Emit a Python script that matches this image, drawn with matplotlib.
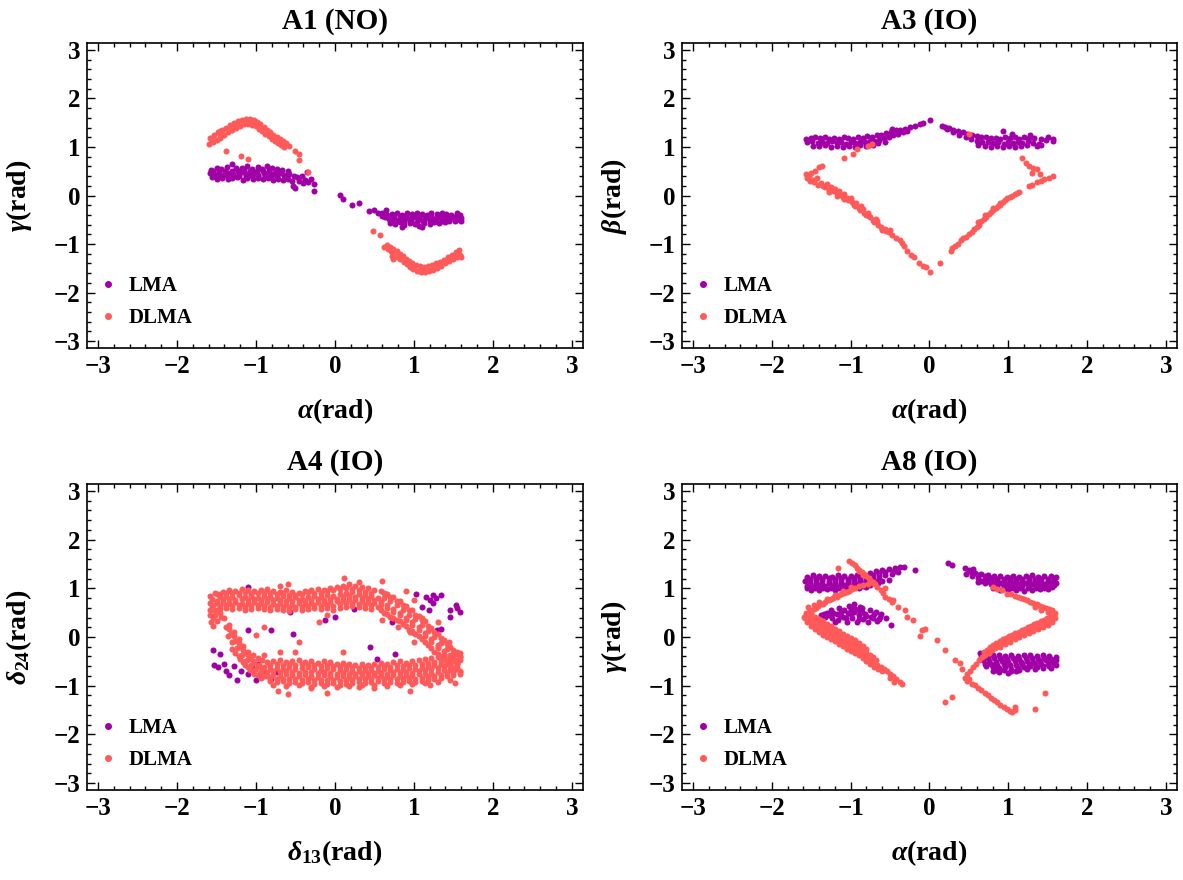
import numpy as np
import matplotlib
matplotlib.use("Agg")
import matplotlib.pyplot as plt
from matplotlib.ticker import MultipleLocator
from matplotlib.lines import Line2D

# Fonts: Times-like bold text, bold italic greek
plt.rcParams['font.family'] = ['Liberation Serif', 'DejaVu Serif']
plt.rcParams['font.weight'] = 'bold'
plt.rcParams['mathtext.fontset'] = 'custom'
plt.rcParams['mathtext.rm'] = 'Liberation Serif:bold'
plt.rcParams['mathtext.it'] = 'Liberation Serif:italic:bold'
plt.rcParams['mathtext.bf'] = 'Liberation Serif:bold'

LMA_COLOR = '#a000a6'
DLMA_COLOR = '#ff5a5a'

# ---------------- A1 (NO) : alpha vs gamma ----------------
a1_lma = [
    (-1.57, 0.53), (-1.5, 0.56), (-1.44, 0.55), (-1.37, 0.58), (-1.31, 0.65), (-1.25, 0.56), (-1.18, 0.57),
    (-1.12, 0.6), (-1.05, 0.55), (-0.98, 0.58), (-0.92, 0.54), (-0.86, 0.6), (-0.8, 0.57), (-0.73, 0.55),
    (-0.67, 0.52), (-0.6, 0.5),
    (-1.55, 0.5), (-1.47, 0.52), (-1.39, 0.5), (-1.31, 0.51), (-1.23, 0.5), (-1.15, 0.52), (-1.07, 0.5),
    (-0.99, 0.51), (-0.91, 0.5), (-0.83, 0.52), (-0.75, 0.49), (-0.68, 0.47),
    (-1.58, 0.47), (-1.53, 0.44), (-1.47, 0.46), (-1.41, 0.43), (-1.35, 0.47), (-1.29, 0.45), (-1.22, 0.44),
    (-1.16, 0.48), (-1.1, 0.45), (-1.03, 0.46), (-0.97, 0.43), (-0.9, 0.47), (-0.84, 0.45), (-0.78, 0.44),
    (-0.71, 0.46), (-0.65, 0.42), (-0.58, 0.44), (-0.52, 0.4),
    (-1.53, 0.41), (-1.45, 0.4), (-1.37, 0.42), (-1.29, 0.4), (-1.21, 0.41), (-1.13, 0.4), (-1.05, 0.41),
    (-0.97, 0.4), (-0.89, 0.41), (-0.81, 0.39), (-0.73, 0.4), (-0.63, 0.38),
    (-1.56, 0.38), (-1.49, 0.35), (-1.43, 0.37), (-1.36, 0.34), (-1.3, 0.36), (-1.24, 0.38), (-1.17, 0.33),
    (-1.11, 0.36), (-1.04, 0.35), (-0.97, 0.37), (-0.91, 0.34), (-0.85, 0.36), (-0.78, 0.33), (-0.72, 0.35),
    (-0.66, 0.32), (-0.6, 0.34), (-0.54, 0.3),
    (-0.48, 0.38), (-0.45, 0.3), (-0.42, 0.41), (-0.4, 0.25), (-0.38, 0.33), (-0.36, 0.49), (-0.34, 0.28),
    (-0.3, 0.34), (-0.27, 0.24), (-0.26, 0.09), (-0.53, 0.2), (-0.5, 0.15),
    (0.07, 0.02), (0.1, -0.07), (0.22, -0.2), (0.31, -0.15), (0.43, -0.31), (0.5, -0.3), (0.55, -0.37),
    (0.6, -0.36), (0.66, -0.4), (0.72, -0.38), (0.78, -0.36), (0.85, -0.4), (0.91, -0.37), (0.97, -0.39),
    (1.04, -0.36), (1.1, -0.38), (1.16, -0.4), (1.22, -0.37), (1.29, -0.39), (1.35, -0.36), (1.41, -0.38),
    (1.47, -0.4), (1.54, -0.37), (1.59, -0.4),
    (0.66, -0.42), (0.74, -0.43), (0.82, -0.43), (0.9, -0.42), (0.98, -0.43), (1.06, -0.42), (1.14, -0.44),
    (1.22, -0.42), (1.3, -0.43), (1.38, -0.42), (1.46, -0.43), (1.54, -0.42),
    (0.63, -0.45), (0.69, -0.48), (0.75, -0.46), (0.81, -0.5), (0.88, -0.47), (0.94, -0.49), (1.0, -0.45),
    (1.07, -0.48), (1.13, -0.5), (1.19, -0.46), (1.25, -0.48), (1.32, -0.45), (1.38, -0.49), (1.44, -0.47),
    (1.5, -0.44), (1.56, -0.48), (1.6, -0.46),
    (0.72, -0.52), (0.8, -0.53), (0.88, -0.54), (0.96, -0.53), (1.04, -0.54), (1.12, -0.53), (1.2, -0.52),
    (1.28, -0.53), (1.36, -0.52), (1.44, -0.51), (1.52, -0.5), (1.6, -0.52),
    (0.7, -0.56), (0.76, -0.58), (0.82, -0.55), (0.88, -0.6), (0.95, -0.57), (1.01, -0.59), (1.07, -0.62),
    (1.13, -0.56), (1.2, -0.58), (1.26, -0.55), (1.32, -0.57), (1.39, -0.55), (1.45, -0.53), (1.52, -0.52),
    (1.58, -0.5), (0.85, -0.64), (1.1, -0.65), (0.65, -0.3), (0.59, -0.43),
]
a1_dlma = [
    (-1.58, 1.18), (-1.53, 1.24), (-1.48, 1.3), (-1.43, 1.35), (-1.38, 1.4), (-1.33, 1.45), (-1.28, 1.5),
    (-1.23, 1.53), (-1.18, 1.56), (-1.13, 1.57), (-1.08, 1.57), (-1.03, 1.56), (-0.99, 1.52), (-0.95, 1.47),
    (-0.9, 1.42), (-0.86, 1.36), (-0.82, 1.3), (-0.78, 1.25), (-0.74, 1.2), (-0.7, 1.16), (-0.66, 1.12),
    (-0.62, 1.08),
    (-1.56, 1.14), (-1.46, 1.26), (-1.36, 1.36), (-1.26, 1.46), (-1.16, 1.52), (-1.06, 1.52), (-0.97, 1.45),
    (-0.88, 1.33), (-0.8, 1.22), (-0.72, 1.12),
    (-1.59, 1.06), (-1.55, 1.1), (-1.5, 1.14), (-1.45, 1.19), (-1.4, 1.24), (-1.35, 1.3), (-1.3, 1.34),
    (-1.25, 1.4), (-1.2, 1.43), (-1.15, 1.47), (-1.1, 1.48), (-1.05, 1.46), (-1.0, 1.44), (-0.96, 1.38),
    (-0.92, 1.33), (-0.88, 1.27), (-0.84, 1.22), (-0.8, 1.17), (-0.76, 1.12), (-0.72, 1.08), (-0.68, 1.04),
    (-0.64, 1.0),
    (-1.38, 0.92), (-1.19, 0.82), (-1.1, 0.76), (-0.5, 0.92), (-0.45, 0.85), (-0.45, 0.74), (-0.34, 0.48),
    (-0.58, 1.02), (-1.45, 1.32), (-1.05, 1.5),
    (0.62, -1.06), (0.67, -1.1), (0.71, -1.15), (0.75, -1.2), (0.79, -1.26), (0.83, -1.31), (0.87, -1.36),
    (0.91, -1.42), (0.95, -1.47), (0.99, -1.52), (1.04, -1.55), (1.09, -1.57), (1.14, -1.57), (1.19, -1.56),
    (1.24, -1.53), (1.29, -1.5), (1.34, -1.45), (1.39, -1.4), (1.44, -1.35), (1.49, -1.3), (1.54, -1.26),
    (1.58, -1.22),
    (0.7, -1.1), (0.8, -1.24), (0.9, -1.36), (1.0, -1.46), (1.1, -1.52), (1.2, -1.51), (1.3, -1.45),
    (1.4, -1.36), (1.5, -1.26),
    (0.66, -1.02), (0.7, -1.06), (0.74, -1.1), (0.78, -1.15), (0.82, -1.2), (0.86, -1.25), (0.9, -1.3),
    (0.94, -1.35), (0.98, -1.39), (1.03, -1.44), (1.08, -1.46), (1.13, -1.47), (1.18, -1.46), (1.23, -1.43),
    (1.28, -1.4), (1.33, -1.36), (1.38, -1.32), (1.43, -1.27), (1.48, -1.22), (1.53, -1.17), (1.57, -1.13),
    (0.48, -0.74), (0.57, -0.82), (0.74, -1.3), (0.72, -1.25), (1.6, -1.27),
]

# ---------------- A3 (IO) : alpha vs beta ----------------
a3_lma = [
    (-1.57, 1.17), (-1.51, 1.19), (-1.45, 1.2), (-1.39, 1.18), (-1.33, 1.2), (-1.27, 1.17), (-1.21, 1.19),
    (-1.15, 1.17), (-1.09, 1.2), (-1.03, 1.18), (-0.97, 1.16), (-0.91, 1.2), (-0.85, 1.18), (-0.79, 1.22),
    (-0.73, 1.2), (-0.67, 1.24), (-0.61, 1.25), (-0.55, 1.28), (-0.49, 1.3), (-0.43, 1.36), (-0.37, 1.35),
    (-0.31, 1.38), (-0.25, 1.42), (-0.18, 1.44), (-0.12, 1.47),
    (-1.55, 1.1), (-1.49, 1.12), (-1.42, 1.09), (-1.36, 1.11), (-1.3, 1.08), (-1.24, 1.12), (-1.18, 1.09),
    (-1.12, 1.1), (-1.06, 1.07), (-1.0, 1.1), (-0.94, 1.08), (-0.88, 1.11), (-0.82, 1.1), (-0.76, 1.13),
    (-0.7, 1.12), (-0.64, 1.15), (-0.58, 1.18), (-0.52, 1.2), (-0.46, 1.24), (-0.4, 1.27), (-0.34, 1.3),
    (-0.28, 1.33),
    (-1.48, 1.03), (-1.4, 1.02), (-1.32, 1.04), (-1.25, 1.01), (-1.17, 1.03), (-1.1, 1.0), (-1.02, 1.03),
    (-0.95, 1.0), (-0.88, 1.04), (-0.8, 1.02), (-0.72, 1.05), (-0.65, 1.08), (-0.57, 1.1),
    (-0.47, 1.38), (0.01, 1.55), (-0.08, 1.5),
    (0.16, 1.44), (0.2, 1.42), (0.25, 1.4), (0.3, 1.36), (0.36, 1.33), (0.42, 1.3), (0.48, 1.26),
    (0.54, 1.25), (0.6, 1.22), (0.66, 1.2), (0.72, 1.2), (0.78, 1.18), (0.84, 1.19), (0.9, 1.17),
    (0.96, 1.2), (1.02, 1.18), (1.08, 1.21), (1.14, 1.17), (1.2, 1.2), (1.26, 1.18), (1.33, 1.19),
    (1.41, 1.17), (1.5, 1.2), (1.57, 1.17),
    (0.22, 1.37), (0.3, 1.3), (0.38, 1.25), (0.46, 1.2), (0.53, 1.16), (0.6, 1.13), (0.67, 1.1),
    (0.74, 1.11), (0.8, 1.08), (0.87, 1.1), (0.94, 1.07), (1.0, 1.1), (1.06, 1.08), (1.12, 1.11),
    (1.18, 1.08), (1.25, 1.12), (1.32, 1.09), (1.39, 1.06), (1.57, 1.12),
    (0.62, 1.05), (0.7, 1.03), (0.78, 1.01), (0.86, 1.03), (0.93, 1.0), (1.01, 1.02), (1.09, 1.0),
    (1.16, 1.03), (1.24, 1.05), (1.36, 1.03), (1.42, 1.04),
    (0.93, 1.33), (1.05, 1.26), (1.48, 1.14), (1.28, 1.25),
]
a3_dlma = [
    (-1.57, 0.44), (-1.56, 0.36), (-1.53, 0.4), (-1.5, 0.47), (-1.48, 0.31), (-1.45, 0.5), (-1.43, 0.36),
    (-1.4, 0.58), (-1.38, 0.26), (-1.36, 0.6), (-1.35, 0.2), (-1.32, 0.17), (-1.3, 0.24), (-1.27, 0.12),
    (-1.25, 0.18), (-1.22, 0.09), (-1.2, 0.14), (-1.18, 0.05), (-1.15, 0.1), (-1.12, 0.02), (-1.1, -0.04),
    (-1.08, 0.03), (-1.05, -0.06), (-1.03, -0.1), (-1.0, -0.05), (-0.98, -0.14), (-0.96, -0.2),
    (-0.93, -0.16), (-0.9, -0.25), (-0.88, -0.3), (-0.85, -0.28), (-0.83, -0.36), (-0.8, -0.4),
    (-0.78, -0.35), (-0.75, -0.45), (-0.72, -0.5), (-0.7, -0.55), (-0.67, -0.52), (-0.65, -0.6),
    (-0.62, -0.65), (-0.6, -0.7), (-0.57, -0.68), (-0.55, -0.74), (-0.52, -0.76), (-0.5, -0.72),
    (-0.47, -0.82), (-0.42, -0.88), (-0.37, -0.92), (-0.35, -0.98), (-0.32, -1.03), (-0.28, -1.15),
    (-0.24, -1.22), (-0.2, -1.26), (-0.13, -1.4), (-0.08, -1.45), (-0.05, -1.48), (0.01, -1.57),
    (-1.52, 0.3), (-1.46, 0.27), (-1.41, 0.22), (-1.28, 0.08), (-1.17, 0.0), (-1.08, -0.08),
    (-0.95, -0.22), (-0.87, -0.22), (-0.77, -0.42), (-0.68, -0.48),
    (-1.09, 0.78), (-0.97, 0.85), (-0.92, 0.95), (-0.78, 1.02), (-0.73, 1.06), (0.5, 1.26),
    (0.13, -1.4), (0.27, -1.14), (0.29, -1.08), (0.32, -1.03), (0.36, -1.0), (0.4, -0.92), (0.43, -0.88),
    (0.46, -0.85), (0.5, -0.8), (0.54, -0.75), (0.57, -0.68), (0.6, -0.64), (0.63, -0.6), (0.66, -0.52),
    (0.69, -0.48), (0.72, -0.44), (0.75, -0.38), (0.78, -0.34), (0.81, -0.3), (0.84, -0.26), (0.87, -0.22),
    (0.9, -0.16), (0.93, -0.14), (0.96, -0.1), (0.99, -0.06), (1.02, -0.03), (1.05, 0.0), (1.08, 0.03),
    (1.11, 0.05), (1.14, 0.07), (0.7, -0.4), (0.8, -0.25), (0.9, -0.2), (0.62, -0.55),
    (1.26, 0.2), (1.3, 0.22), (1.36, 0.27), (1.41, 0.3), (1.45, 0.34), (1.52, 0.37), (1.57, 0.41),
    (1.17, 0.78), (1.22, 0.68), (1.26, 0.61), (1.32, 0.57), (1.36, 0.55), (1.4, 0.44), (1.3, 0.47),
]

# ---------------- A4 (IO) : delta13 vs delta24 ----------------
a4_lma = [
    (-1.55, -0.27), (-1.53, -0.58), (-1.48, -0.62), (-1.41, -0.55), (-1.38, -0.69), (-1.34, -0.79),
    (-1.24, -0.89), (-1.19, -0.69), (-1.15, -0.52), (-1.1, -0.76), (-1.05, -0.62), (-1.0, -0.89),
    (-0.95, -0.76), (-0.91, -0.69), (-0.86, -0.79), (-0.81, -0.86), (-0.74, -0.72), (-1.45, -0.35),
    (-1.28, -0.6), (-0.98, -0.55), (-1.1, 0.14), (-0.81, 0.14), (-0.53, 0.07), (-0.57, 0.52),
    (1.03, 0.88), (1.15, 0.82), (1.24, 0.86), (1.34, 0.86), (1.1, 0.62), (1.19, 0.55), (1.24, 0.69),
    (1.46, 0.55), (1.53, 0.65), (1.58, 0.52), (1.55, 0.59), (1.29, 0.14), (1.34, 0.17), (1.46, 0.41),
    (1.2, 0.75), (1.28, 0.8),
    (0.45, -0.21), (0.76, -0.34), (0.53, -0.45), (-0.12, 0.34), (0.0, 0.41), (0.24, 0.58),
    (0.72, 0.31), (0.98, 0.1), (-1.1, 1.02),
]
a4_dlma = [
    # upper band
    (-1.5, 0.88), (-1.42, 0.93), (-1.34, 0.97), (-1.26, 0.95), (-1.18, 0.98), (-1.1, 0.96), (-1.02, 0.94),
    (-0.94, 0.97), (-0.86, 0.99), (-0.78, 0.95), (-0.7, 0.93), (-0.62, 0.96), (-0.54, 0.92), (-0.46, 0.9),
    (-0.38, 0.95), (-0.3, 0.97), (-0.22, 0.98), (-0.14, 0.96), (-0.06, 1.0), (0.02, 1.02), (0.1, 1.05),
    (0.18, 1.08), (0.26, 1.04), (0.34, 1.02), (0.42, 1.0), (0.5, 0.97),
    (-1.46, 0.88), (-1.38, 0.9), (-1.3, 0.91), (-1.22, 0.9), (-1.14, 0.92), (-1.06, 0.89), (-0.98, 0.91),
    (-0.9, 0.93), (-0.82, 0.9), (-0.74, 0.88), (-0.66, 0.91), (-0.58, 0.87), (-0.5, 0.86), (-0.42, 0.89),
    (-0.34, 0.92), (-0.26, 0.91), (-0.18, 0.9), (-0.1, 0.94), (-0.02, 0.96), (0.06, 0.98), (0.14, 1.0),
    (0.22, 0.98), (0.3, 0.96), (0.38, 0.93), (0.46, 0.9),
    (-1.56, 0.78), (-1.46, 0.82), (-1.38, 0.85), (-1.3, 0.83), (-1.22, 0.86), (-1.14, 0.82), (-1.06, 0.84),
    (-0.98, 0.8), (-0.9, 0.85), (-0.82, 0.83), (-0.74, 0.81), (-0.66, 0.84), (-0.58, 0.8), (-0.5, 0.82),
    (-0.42, 0.79), (-0.34, 0.83), (-0.26, 0.85), (-0.18, 0.82), (-0.1, 0.86), (-0.02, 0.84), (0.06, 0.88),
    (0.14, 0.9), (0.22, 0.92), (0.3, 0.89), (0.38, 0.86), (0.46, 0.84), (0.54, 0.8),
    (-1.5, 0.74), (-1.42, 0.77), (-1.34, 0.78), (-1.26, 0.76), (-1.18, 0.77), (-1.1, 0.75), (-1.02, 0.77),
    (-0.94, 0.76), (-0.86, 0.78), (-0.78, 0.75), (-0.7, 0.76), (-0.62, 0.74), (-0.54, 0.73), (-0.46, 0.75),
    (-0.38, 0.74), (-0.3, 0.76), (-0.22, 0.78), (-0.14, 0.76), (-0.06, 0.78), (0.02, 0.79), (0.1, 0.82),
    (0.18, 0.84), (0.26, 0.82), (0.34, 0.8), (0.42, 0.78), (0.5, 0.76),
    (-1.54, 0.66), (-1.5, 0.7), (-1.42, 0.72), (-1.34, 0.69), (-1.26, 0.71), (-1.18, 0.68), (-1.1, 0.7),
    (-1.02, 0.72), (-0.94, 0.69), (-0.86, 0.71), (-0.78, 0.67), (-0.7, 0.7), (-0.62, 0.68), (-0.54, 0.66),
    (-0.46, 0.69), (-0.38, 0.67), (-0.3, 0.7), (-0.22, 0.72), (-0.14, 0.69), (-0.06, 0.71), (0.02, 0.74),
    (0.1, 0.76), (0.18, 0.78), (0.26, 0.75), (0.34, 0.73), (0.42, 0.72), (0.5, 0.7),
    (-1.46, 0.64), (-1.38, 0.66), (-1.3, 0.63), (-1.22, 0.65), (-1.14, 0.62), (-1.06, 0.64), (-0.98, 0.66),
    (-0.9, 0.63), (-0.82, 0.62), (-0.74, 0.64), (-0.66, 0.62), (-0.58, 0.6), (-0.5, 0.62), (-0.42, 0.61),
    (-0.34, 0.63), (-0.26, 0.65), (-0.18, 0.64), (-0.1, 0.65), (-0.02, 0.63), (0.06, 0.67), (0.14, 0.69),
    (0.22, 0.7), (0.3, 0.68), (0.38, 0.66), (0.46, 0.65), (0.54, 0.62),
    (-1.58, 0.55), (-1.46, 0.58), (-1.38, 0.6), (-1.3, 0.57), (-1.22, 0.59), (-1.14, 0.56), (-1.06, 0.58),
    (-0.98, 0.6), (-0.9, 0.57), (-0.82, 0.55), (-0.74, 0.58), (-0.66, 0.56), (-0.58, 0.54), (-0.5, 0.57),
    (-0.42, 0.55), (-0.34, 0.58), (-0.26, 0.6), (-0.18, 0.57), (-0.1, 0.59), (-0.02, 0.56), (0.06, 0.6),
    (0.14, 0.62), (0.22, 0.64), (0.3, 0.61), (0.38, 0.6), (0.46, 0.58),
    (-1.58, 0.45), (-1.55, 0.38), (-1.57, 0.3), (-1.52, 0.46), (-1.54, 0.22), (-1.49, 0.32), (-1.5, 0.55),
    (-1.44, 0.42), (-1.58, 0.85), (-1.52, 0.9), (-1.56, 0.62), (-1.45, 0.5), (-1.58, 0.7), (-1.53, 0.56),
    # upper band bending down on the right
    (0.58, 0.95), (0.66, 0.88), (0.74, 0.82), (0.82, 0.74), (0.9, 0.63), (0.98, 0.55), (1.06, 0.44),
    (1.14, 0.32), (1.22, 0.18), (1.3, 0.06), (1.38, -0.06), (1.46, -0.2), (1.54, -0.3),
    (0.62, 0.9), (0.7, 0.82), (0.78, 0.74), (0.86, 0.65), (0.94, 0.55), (1.02, 0.46), (1.1, 0.34),
    (1.18, 0.22), (1.26, 0.1), (1.34, -0.02), (1.42, -0.14), (1.5, -0.26), (1.58, -0.32),
    (0.62, 0.8), (0.7, 0.74), (0.78, 0.65), (0.86, 0.55), (0.94, 0.46), (1.02, 0.36), (1.1, 0.24),
    (1.18, 0.12), (1.26, 0.0), (1.34, -0.12), (1.42, -0.25), (1.5, -0.36), (1.58, -0.42),
    (0.58, 0.72), (0.66, 0.66), (0.74, 0.58), (0.82, 0.5), (0.9, 0.4), (0.98, 0.3), (1.06, 0.2),
    (1.14, 0.08), (1.22, -0.04), (1.3, -0.16), (1.38, -0.28), (1.46, -0.42), (1.54, -0.48),
    (0.58, 0.66), (0.66, 0.6), (0.74, 0.52), (0.82, 0.45), (0.9, 0.35), (0.98, 0.25), (1.06, 0.14),
    (1.14, 0.02), (1.22, -0.1), (1.3, -0.22), (1.38, -0.34), (1.46, -0.48), (1.54, -0.56),
    (0.58, 0.56), (0.66, 0.48), (0.74, 0.4), (0.82, 0.32), (0.9, 0.22), (0.98, 0.12), (1.06, 0.02),
    (1.14, -0.1), (1.22, -0.22), (1.3, -0.35), (1.38, -0.46), (1.46, -0.58), (1.54, -0.66),
    (0.62, 0.5), (0.7, 0.42), (0.78, 0.35), (0.86, 0.26), (0.94, 0.15), (1.02, 0.06), (1.1, -0.05),
    (1.18, -0.16), (1.26, -0.3), (1.34, -0.42), (1.42, -0.55), (1.5, -0.64), (1.58, -0.72),
    (0.12, 1.22), (0.6, 1.15), (0.3, 1.12), (-0.6, 1.08), (-0.7, 1.05), (0.9, 0.95), (1.0, 0.75),
    (0.95, 0.1), (1.1, 0.4), (1.3, 0.3), (1.0, -0.1), (0.8, 0.2), (-0.2, 0.3), (-0.1, 0.45), (0.6, 0.35),
    (-0.9, 0.2), (-1.0, 0.05),
    # lower band, rising to the left
    (-1.4, 0.38), (-1.34, 0.24), (-1.28, 0.1), (-1.22, -0.04), (-1.16, -0.18), (-1.1, -0.3), (-1.04, -0.36),
    (-0.98, -0.44), (-0.92, -0.48),
    (-1.34, 0.16), (-1.28, 0.02), (-1.22, -0.12), (-1.16, -0.26), (-1.1, -0.38), (-1.04, -0.5),
    (-0.98, -0.6), (-0.92, -0.66),
    (-1.38, 0.2), (-1.32, 0.06), (-1.26, -0.08), (-1.2, -0.2), (-1.14, -0.33), (-1.08, -0.44),
    (-1.02, -0.52), (-0.96, -0.58), (-0.9, -0.62),
    (-1.36, 0.02), (-1.3, -0.1), (-1.24, -0.22), (-1.18, -0.36), (-1.12, -0.48), (-1.06, -0.58),
    (-1.0, -0.66), (-0.94, -0.72),
    (-1.26, -0.32), (-1.2, -0.46), (-1.14, -0.58), (-1.08, -0.68), (-1.02, -0.76), (-0.94, -0.84),
    (-0.9, -0.8),
    (-1.3, -0.25), (-1.22, -0.4), (-1.16, -0.52), (-1.1, -0.62), (-1.04, -0.7), (-0.98, -0.78),
    (-0.86, -0.52), (-0.78, -0.5), (-0.7, -0.48), (-0.62, -0.52), (-0.54, -0.5), (-0.46, -0.47),
    (-0.38, -0.51), (-0.3, -0.49), (-0.22, -0.53), (-0.14, -0.5), (-0.06, -0.52), (0.02, -0.55),
    (0.1, -0.53), (0.18, -0.56), (0.26, -0.58), (0.34, -0.55), (0.42, -0.57), (0.5, -0.56), (0.58, -0.54),
    (0.66, -0.55), (0.74, -0.52), (0.82, -0.5), (0.9, -0.53), (0.98, -0.5), (1.06, -0.48), (1.14, -0.46),
    (1.22, -0.44), (1.3, -0.42), (1.38, -0.38), (1.46, -0.36), (1.54, -0.34),
    (-0.82, -0.58), (-0.74, -0.56), (-0.66, -0.58), (-0.58, -0.55), (-0.5, -0.57), (-0.42, -0.56),
    (-0.34, -0.58), (-0.26, -0.57), (-0.18, -0.59), (-0.1, -0.57), (-0.02, -0.59), (0.06, -0.61),
    (0.14, -0.6), (0.22, -0.62), (0.3, -0.63), (0.38, -0.61), (0.46, -0.62), (0.54, -0.62), (0.62, -0.6),
    (0.7, -0.61), (0.78, -0.58), (0.86, -0.59), (0.94, -0.57), (1.02, -0.58), (1.1, -0.55), (1.18, -0.53),
    (1.26, -0.51), (1.34, -0.49), (1.42, -0.45), (1.5, -0.43), (1.58, -0.4),
    (-0.82, -0.66), (-0.74, -0.63), (-0.66, -0.65), (-0.58, -0.62), (-0.5, -0.66), (-0.42, -0.64),
    (-0.34, -0.62), (-0.26, -0.65), (-0.18, -0.67), (-0.1, -0.64), (-0.02, -0.66), (0.06, -0.68),
    (0.14, -0.66), (0.22, -0.69), (0.3, -0.7), (0.38, -0.68), (0.46, -0.67), (0.54, -0.69), (0.62, -0.66),
    (0.7, -0.68), (0.78, -0.65), (0.86, -0.67), (0.94, -0.64), (1.02, -0.66), (1.1, -0.62), (1.18, -0.6),
    (1.26, -0.58), (1.34, -0.56), (1.42, -0.52), (1.5, -0.5), (1.58, -0.48),
    (-0.86, -0.72), (-0.78, -0.7), (-0.7, -0.72), (-0.62, -0.7), (-0.54, -0.72), (-0.46, -0.73),
    (-0.38, -0.71), (-0.3, -0.72), (-0.22, -0.74), (-0.14, -0.72), (-0.06, -0.74), (0.02, -0.76),
    (0.1, -0.73), (0.18, -0.75), (0.26, -0.75), (0.34, -0.73), (0.42, -0.74), (0.5, -0.74), (0.58, -0.73),
    (0.66, -0.75), (0.74, -0.72), (0.82, -0.74), (0.9, -0.71), (0.98, -0.73), (1.06, -0.7), (1.14, -0.68),
    (1.22, -0.66), (1.3, -0.64), (1.38, -0.6), (1.46, -0.58), (1.54, -0.56),
    (-0.86, -0.8), (-0.78, -0.78), (-0.7, -0.8), (-0.62, -0.77), (-0.54, -0.79), (-0.46, -0.81),
    (-0.38, -0.78), (-0.3, -0.8), (-0.22, -0.82), (-0.14, -0.79), (-0.06, -0.81), (0.02, -0.83),
    (0.1, -0.8), (0.18, -0.82), (0.26, -0.8), (0.34, -0.78), (0.42, -0.81), (0.5, -0.79), (0.58, -0.8),
    (0.66, -0.82), (0.74, -0.79), (0.82, -0.81), (0.9, -0.78), (0.98, -0.8), (1.06, -0.77), (1.14, -0.75),
    (1.22, -0.73), (1.3, -0.71), (1.38, -0.68), (1.46, -0.66), (1.54, -0.63),
    (-0.82, -0.85), (-0.74, -0.86), (-0.66, -0.86), (-0.58, -0.86), (-0.5, -0.86), (-0.42, -0.88),
    (-0.34, -0.86), (-0.26, -0.88), (-0.18, -0.88), (-0.1, -0.88), (-0.02, -0.88), (0.06, -0.9),
    (0.14, -0.88), (0.22, -0.88), (0.3, -0.86), (0.38, -0.86), (0.46, -0.87), (0.54, -0.85), (0.62, -0.87),
    (0.7, -0.87), (0.78, -0.87), (0.86, -0.87), (0.94, -0.84), (1.02, -0.86), (1.1, -0.84), (1.18, -0.82),
    (1.26, -0.8), (1.34, -0.78), (1.42, -0.74), (1.5, -0.72), (1.58, -0.7),
    (-0.82, -0.9), (-0.74, -0.93), (-0.66, -0.91), (-0.58, -0.94), (-0.5, -0.92), (-0.42, -0.95),
    (-0.34, -0.93), (-0.26, -0.96), (-0.18, -0.94), (-0.1, -0.97), (-0.02, -0.95), (0.06, -0.98),
    (0.14, -0.96), (0.22, -0.94), (0.3, -0.92), (0.38, -0.95), (0.46, -0.93), (0.54, -0.91), (0.62, -0.94),
    (0.7, -0.92), (0.78, -0.95), (0.86, -0.93), (0.94, -0.9), (1.02, -0.92), (1.1, -0.9), (1.18, -0.88),
    (1.26, -0.86), (1.34, -0.84), (1.42, -0.8), (1.5, -0.78), (1.58, -0.76),
    (-0.78, -0.98), (-0.62, -1.0), (-0.46, -0.99), (-0.3, -1.02), (-0.14, -1.0), (0.02, -1.03),
    (0.18, -1.0), (0.34, -0.99), (0.5, -0.98), (0.66, -1.0), (0.82, -0.98), (0.98, -0.97), (1.14, -0.95),
    (1.3, -0.92), (1.46, -0.88),
    (-0.72, -1.1), (-0.6, -1.17), (-0.1, -1.15), (0.5, -1.05), (0.95, -1.1), (-0.3, -1.05), (0.3, -1.02),
    (1.2, -0.98), (-0.5, -0.3), (-0.9, -0.38), (-0.7, -0.3), (0.1, -0.3), (-0.45, -0.1), (1.3, -0.2),
    (1.45, -0.1), (1.52, -0.95),
]

# ---------------- A8 (IO) : alpha vs gamma ----------------
a8_lma = [
    (-1.56, 1.24), (-1.48, 1.27), (-1.4, 1.25), (-1.32, 1.26), (-1.24, 1.24), (-1.16, 1.27), (-1.08, 1.25),
    (-1.0, 1.26), (-0.92, 1.28), (-0.84, 1.3), (-0.76, 1.32), (-0.68, 1.35), (-0.6, 1.38), (-0.52, 1.4),
    (-0.44, 1.42), (-0.38, 1.44),
    (-1.52, 1.2), (-1.44, 1.21), (-1.36, 1.2), (-1.28, 1.21), (-1.2, 1.2), (-1.12, 1.21), (-1.04, 1.2),
    (-0.96, 1.22), (-0.88, 1.24), (-0.8, 1.26), (-0.72, 1.28), (-0.64, 1.31), (-0.56, 1.34),
    (-1.58, 1.15), (-1.52, 1.13), (-1.44, 1.16), (-1.36, 1.14), (-1.28, 1.15), (-1.2, 1.13), (-1.12, 1.16),
    (-1.04, 1.14), (-0.96, 1.17), (-0.88, 1.18), (-0.8, 1.2), (-0.72, 1.22), (-0.64, 1.25), (-0.56, 1.28),
    (-0.48, 1.3), (-0.4, 1.33),
    (-1.52, 1.09), (-1.44, 1.1), (-1.36, 1.09), (-1.28, 1.1), (-1.2, 1.09), (-1.12, 1.1), (-1.04, 1.09),
    (-0.96, 1.12), (-0.88, 1.13), (-0.8, 1.15), (-0.72, 1.17), (-0.64, 1.2),
    (-1.56, 1.05), (-1.48, 1.03), (-1.4, 1.06), (-1.32, 1.04), (-1.24, 1.05), (-1.16, 1.02), (-1.08, 1.06),
    (-1.0, 1.04), (-0.92, 1.07), (-0.84, 1.08), (-0.76, 1.1), (-0.68, 1.12), (-0.6, 1.15), (-0.52, 1.18),
    (-1.55, 1.0), (-1.45, 1.0), (-1.35, 1.01), (-1.25, 1.0), (-1.15, 1.0), (-1.05, 1.01), (-0.95, 1.03),
    (-0.85, 1.05), (-0.75, 1.07), (-0.65, 1.1),
    (-1.5, 0.97), (-1.4, 0.96), (-1.3, 0.98), (-1.2, 0.96), (-1.1, 0.97), (-1.0, 0.99), (-0.9, 1.0),
    (-0.8, 1.02), (-0.32, 1.44), (-0.18, 1.37), (-0.45, 1.35),
    (0.23, 1.51), (0.28, 1.48), (0.45, 1.42), (0.5, 1.38), (0.55, 1.4),
    (0.5, 1.36), (0.58, 1.32), (0.66, 1.3), (0.74, 1.28), (0.82, 1.26), (0.9, 1.25), (0.98, 1.24),
    (1.06, 1.26), (1.14, 1.24), (1.22, 1.25), (1.3, 1.27), (1.38, 1.24), (1.46, 1.26), (1.54, 1.25),
    (1.6, 1.23),
    (0.54, 1.33), (0.62, 1.27), (0.7, 1.25), (0.78, 1.22), (0.86, 1.2), (0.94, 1.19), (1.02, 1.21),
    (1.1, 1.19), (1.18, 1.2), (1.26, 1.21), (1.34, 1.2), (1.42, 1.2), (1.5, 1.2), (1.58, 1.19),
    (0.46, 1.3), (0.54, 1.26), (0.62, 1.22), (0.7, 1.2), (0.78, 1.17), (0.86, 1.15), (0.94, 1.14),
    (1.02, 1.16), (1.1, 1.13), (1.18, 1.15), (1.26, 1.14), (1.34, 1.16), (1.42, 1.13), (1.5, 1.15),
    (1.58, 1.14),
    (0.66, 1.15), (0.74, 1.14), (0.82, 1.11), (0.9, 1.1), (0.98, 1.09), (1.06, 1.1), (1.14, 1.08),
    (1.22, 1.1), (1.3, 1.09), (1.38, 1.1), (1.46, 1.09), (1.54, 1.1), (1.6, 1.1),
    (0.62, 1.12), (0.7, 1.1), (0.78, 1.08), (0.86, 1.06), (0.94, 1.04), (1.02, 1.05), (1.1, 1.03),
    (1.18, 1.05), (1.26, 1.04), (1.34, 1.06), (1.42, 1.04), (1.5, 1.05), (1.58, 1.06),
    (0.8, 1.0), (0.95, 1.0), (1.05, 1.0), (1.15, 1.0), (1.25, 1.0), (1.35, 1.01), (1.45, 1.01), (1.55, 1.02),
    (0.9, 0.97), (1.0, 0.96), (1.1, 0.97), (1.2, 0.95), (1.3, 0.97), (1.4, 0.98), (1.5, 0.99),
    (-1.38, 0.45), (-1.32, 0.42), (-1.3, 0.5), (-1.25, 0.55), (-1.24, 0.4), (-1.18, 0.48), (-1.16, 0.35),
    (-1.15, 0.6), (-1.1, 0.42), (-1.08, 0.55), (-1.05, 0.3), (-1.02, 0.64), (-1.0, 0.48), (-0.98, 0.38),
    (-0.94, 0.58), (-0.92, 0.3), (-0.9, 0.45), (-0.86, 0.52), (-0.84, 0.36), (-0.8, 0.44), (-0.78, 0.3),
    (-0.76, 0.55), (-0.72, 0.38), (-0.7, 0.47), (-0.66, 0.32), (-0.63, 0.42), (-0.61, 0.48), (-0.49, 0.24),
    (-1.2, 0.3), (-0.96, 0.68), (-0.88, 0.62), (-0.55, 0.4),
    (-1.34, 0.48), (-1.28, 0.46), (-1.22, 0.5), (-1.14, 0.45), (-1.06, 0.4), (-1.04, 0.5), (-0.96, 0.52),
    (-0.9, 0.36), (-0.82, 0.48), (-0.74, 0.42), (-0.68, 0.52), (-0.64, 0.36), (-1.12, 0.52), (-1.0, 0.58),
    (-0.86, 0.6), (-0.9, 0.55),
    (0.64, -0.33), (0.72, -0.36), (0.8, -0.38), (0.88, -0.36), (0.96, -0.4), (1.04, -0.37), (1.12, -0.39),
    (1.2, -0.38), (1.28, -0.37), (1.36, -0.4), (1.44, -0.36), (1.52, -0.4), (1.6, -0.42),
    (0.66, -0.42), (0.74, -0.43), (0.82, -0.44), (0.9, -0.43), (0.98, -0.45), (1.06, -0.44), (1.14, -0.45),
    (1.22, -0.44), (1.3, -0.44), (1.38, -0.45), (1.46, -0.43), (1.54, -0.45), (1.6, -0.47),
    (0.68, -0.48), (0.76, -0.5), (0.84, -0.52), (0.92, -0.49), (1.0, -0.51), (1.08, -0.5), (1.16, -0.52),
    (1.24, -0.49), (1.32, -0.51), (1.4, -0.5), (1.48, -0.48), (1.56, -0.5),
    (0.7, -0.55), (0.78, -0.56), (0.86, -0.58), (0.94, -0.56), (1.02, -0.58), (1.1, -0.57), (1.18, -0.56),
    (1.26, -0.55), (1.34, -0.56), (1.42, -0.55), (1.5, -0.55), (1.58, -0.54),
    (0.72, -0.6), (0.8, -0.62), (0.88, -0.64), (0.96, -0.62), (1.04, -0.65), (1.12, -0.63), (1.2, -0.61),
    (1.28, -0.6), (1.36, -0.62), (1.44, -0.59), (1.52, -0.6), (1.6, -0.58),
    (0.84, -0.67), (0.94, -0.68), (1.04, -0.69), (1.14, -0.67), (1.24, -0.66), (1.34, -0.66), (1.44, -0.64),
    (1.54, -0.63), (0.88, -0.72), (1.0, -0.74), (1.1, -0.7), (0.8, -0.7),
]
a8_dlma = [
    # left V, upper arm
    (-1.59, 0.42), (-1.57, 0.5), (-1.55, 0.46), (-1.52, 0.55), (-1.5, 0.5), (-1.47, 0.58), (-1.44, 0.6),
    (-1.41, 0.63), (-1.38, 0.67), (-1.35, 0.68), (-1.32, 0.72), (-1.28, 0.76), (-1.25, 0.78), (-1.22, 0.8),
    (-1.18, 0.82), (-1.15, 0.86), (-1.12, 0.88), (-1.08, 0.9), (-1.05, 0.93), (-1.02, 0.95), (-0.98, 0.98),
    (-0.95, 1.01), (-0.9, 1.04), (-0.85, 1.06), (-0.78, 1.08), (-0.72, 1.1),
    (-1.54, 0.62), (-1.46, 0.66), (-1.4, 0.72), (-1.3, 0.78), (-1.2, 0.86), (-1.1, 0.94), (-1.0, 1.02),
    # crossing line through the upper band
    (-1.02, 1.57), (-0.98, 1.52), (-0.95, 1.47), (-0.92, 1.42), (-0.89, 1.38), (-0.86, 1.33), (-0.83, 1.3),
    (-0.8, 1.26), (-0.77, 1.22), (-0.75, 1.17), (-0.72, 1.13), (-0.69, 1.08), (-0.66, 1.03), (-0.62, 0.97),
    (-0.59, 0.9), (-0.56, 0.82), (-0.52, 0.78), (-0.47, 0.72), (-0.9, 1.35), (-0.85, 1.28), (-1.16, 1.41),
    (-0.57, 1.0),
    (-0.46, 0.75), (-0.4, 0.62), (-0.31, 0.55), (-0.29, 0.41), (-0.21, 0.34), (-0.1, 0.14), (-0.06, 0.17),
    (-0.12, 0.03), (0.09, -0.07), (0.2, -0.27), (0.32, -0.48), (0.39, -0.54), (0.41, -0.65),
    (0.28, -1.23), (0.2, -1.34),
    # lower right arm
    (0.45, -0.84), (0.48, -0.9), (0.5, -0.86), (0.54, -0.96), (0.58, -0.98), (0.62, -1.04), (0.66, -1.08),
    (0.7, -1.14), (0.74, -1.2), (0.78, -1.25), (0.82, -1.3), (0.86, -1.34), (0.9, -1.4), (0.94, -1.43),
    (0.98, -1.48), (1.02, -1.52), (1.05, -1.55), (1.09, -1.44), (1.08, -1.5), (1.34, -1.47), (1.47, -1.16),
    # left V, lower arm
    (-1.58, 0.38), (-1.54, 0.32), (-1.5, 0.28), (-1.46, 0.24), (-1.42, 0.2), (-1.38, 0.16), (-1.34, 0.12),
    (-1.3, 0.08), (-1.26, 0.05), (-1.22, 0.01), (-1.18, -0.03), (-1.14, -0.07), (-1.1, -0.1),
    (-1.06, -0.14), (-1.02, -0.18), (-0.98, -0.22), (-0.94, -0.26), (-0.9, -0.3), (-0.86, -0.34),
    (-0.82, -0.38), (-0.78, -0.43), (-0.74, -0.48), (-0.7, -0.53), (-0.66, -0.57), (-0.62, -0.62),
    (-0.58, -0.66), (-0.54, -0.7), (-0.5, -0.75), (-0.46, -0.8), (-0.42, -0.86), (-0.38, -0.92),
    (-0.35, -0.97),
    (-1.56, 0.44), (-1.52, 0.4), (-1.48, 0.36), (-1.44, 0.32), (-1.4, 0.28), (-1.36, 0.25), (-1.32, 0.2),
    (-1.28, 0.17), (-1.24, 0.13), (-1.2, 0.09), (-1.16, 0.05), (-1.12, 0.02), (-1.08, -0.02), (-1.04, -0.06),
    (-1.0, -0.1), (-0.96, -0.14), (-0.92, -0.18), (-0.88, -0.22), (-0.84, -0.27), (-0.8, -0.32),
    (-0.76, -0.36), (-0.72, -0.42), (-0.68, -0.47),
    (-1.5, 0.46), (-1.45, 0.41), (-1.4, 0.36), (-1.35, 0.32), (-1.3, 0.27), (-1.25, 0.22), (-1.2, 0.17),
    (-1.15, 0.12), (-1.1, 0.07), (-1.05, 0.02), (-1.0, -0.02), (-0.95, -0.07), (-0.9, -0.12),
    (-0.85, -0.18), (-0.8, -0.24),
    (-1.55, 0.3), (-1.5, 0.22), (-1.45, 0.16), (-1.4, 0.1), (-1.35, 0.05), (-1.3, 0.0), (-1.25, -0.04),
    (-1.2, -0.08), (-1.15, -0.14), (-1.1, -0.18), (-1.05, -0.24), (-1.0, -0.28), (-0.95, -0.33),
    (-0.9, -0.38), (-0.85, -0.44), (-0.8, -0.5), (-0.75, -0.56), (-0.7, -0.62), (-0.65, -0.66),
    (-0.6, -0.7), (-0.5, -0.85), (-0.45, -0.92),
    # right V, upper arm
    (1.59, 0.5), (1.56, 0.55), (1.52, 0.58), (1.48, 0.6), (1.44, 0.62), (1.4, 0.64), (1.36, 0.68),
    (1.32, 0.7), (1.28, 0.72), (1.24, 0.75), (1.2, 0.78), (1.16, 0.8), (1.12, 0.83), (1.08, 0.85),
    (1.04, 0.88), (0.98, 0.89), (0.92, 0.96), (0.86, 0.99), (0.8, 1.02), (1.5, 0.52), (1.42, 0.56),
    (1.34, 0.62),
    # right V, lower arm
    (1.59, 0.4), (1.55, 0.36), (1.51, 0.33), (1.47, 0.3), (1.43, 0.27), (1.39, 0.24), (1.35, 0.21),
    (1.31, 0.18), (1.27, 0.15), (1.23, 0.12), (1.19, 0.09), (1.15, 0.06), (1.11, 0.03), (1.07, 0.0),
    (1.03, -0.03), (0.99, -0.06), (0.95, -0.1), (0.91, -0.14), (0.87, -0.18), (0.83, -0.22), (0.79, -0.27),
    (0.75, -0.32), (0.71, -0.37), (0.67, -0.42), (0.63, -0.48), (0.59, -0.55), (0.55, -0.62), (0.51, -0.7),
    (0.48, -0.76),
    (1.57, 0.46), (1.53, 0.42), (1.49, 0.38), (1.45, 0.35), (1.41, 0.32), (1.37, 0.29), (1.33, 0.26),
    (1.29, 0.23), (1.25, 0.2), (1.21, 0.17), (1.17, 0.14), (1.13, 0.11), (1.09, 0.08), (1.05, 0.05),
    (1.01, 0.02), (0.97, -0.02), (0.93, -0.05), (0.89, -0.09), (0.85, -0.13), (0.81, -0.17), (0.77, -0.21),
    (0.73, -0.26), (0.69, -0.31),
    (1.56, 0.3), (1.5, 0.25), (1.44, 0.2), (1.38, 0.16), (1.32, 0.12), (1.26, 0.08), (1.2, 0.04),
    (1.14, 0.0), (1.08, -0.05), (1.02, -0.1), (0.96, -0.15), (0.9, -0.2),
]

titles = ['A1 (NO)', 'A3 (IO)', 'A4 (IO)', 'A8 (IO)']
xlabels = [r'$\alpha$(rad)', r'$\alpha$(rad)', r'$\delta_{13}$(rad)', r'$\alpha$(rad)']
ylabels = [r'$\gamma$(rad)', r'$\beta$(rad)', r'$\delta_{24}$(rad)', r'$\gamma$(rad)']
lma_sets = [a1_lma, a3_lma, a4_lma, a8_lma]
dlma_sets = [a1_dlma, a3_dlma, a4_dlma, a8_dlma]
ticks = [-3, -2, -1, 0, 1, 2, 3]

# axes boxes in figure fractions [left, bottom, width, height]
boxes = [
    [0.0735, 0.6045, 0.4193, 0.3466],
    [0.5765, 0.6045, 0.4184, 0.3466],
    [0.0735, 0.1023, 0.4193, 0.3477],
    [0.5765, 0.1023, 0.4184, 0.3477],
]

fig = plt.figure(figsize=(11.83, 8.8), dpi=100)

for i in range(4):
    ax = fig.add_axes(boxes[i])
    lx, ly = zip(*lma_sets[i])
    dx, dy = zip(*dlma_sets[i])
    ax.scatter(lx, ly, s=19, color=LMA_COLOR, linewidths=0, zorder=2)
    ax.scatter(dx, dy, s=19, color=DLMA_COLOR, linewidths=0, zorder=3)

    ax.set_xlim(-np.pi, np.pi)
    ax.set_ylim(-np.pi, np.pi)
    ax.set_xticks(ticks)
    ax.set_yticks(ticks)
    ax.xaxis.set_minor_locator(MultipleLocator(0.2))
    ax.yaxis.set_minor_locator(MultipleLocator(0.2))
    ax.tick_params(which='both', direction='in', top=True, right=True, width=1.0)
    ax.tick_params(which='major', length=6, labelsize=18, pad=5)
    ax.tick_params(which='minor', length=3)
    for sp in ax.spines.values():
        sp.set_linewidth(1.2)
    for lab in ax.get_xticklabels() + ax.get_yticklabels():
        lab.set_fontweight('bold')

    ax.set_title(titles[i], fontsize=21, fontweight='bold', pad=10)
    ax.set_xlabel(xlabels[i], fontsize=20, fontweight='bold', labelpad=13)
    ax.set_ylabel(ylabels[i], fontsize=20, fontweight='bold', labelpad=14)

    handles = [
        Line2D([], [], linestyle='none', marker='o', markersize=4, color=LMA_COLOR),
        Line2D([], [], linestyle='none', marker='o', markersize=4, color=DLMA_COLOR),
    ]
    ax.legend(handles, ['LMA', 'DLMA'], loc='lower left', bbox_to_anchor=(0.0, 0.03),
              frameon=False, prop={'family': 'Liberation Serif', 'weight': 'bold', 'size': 15},
              handlelength=1.0, handletextpad=0.5, labelspacing=0.6, borderaxespad=0.1)

fig.savefig('out.png', dpi=100)
